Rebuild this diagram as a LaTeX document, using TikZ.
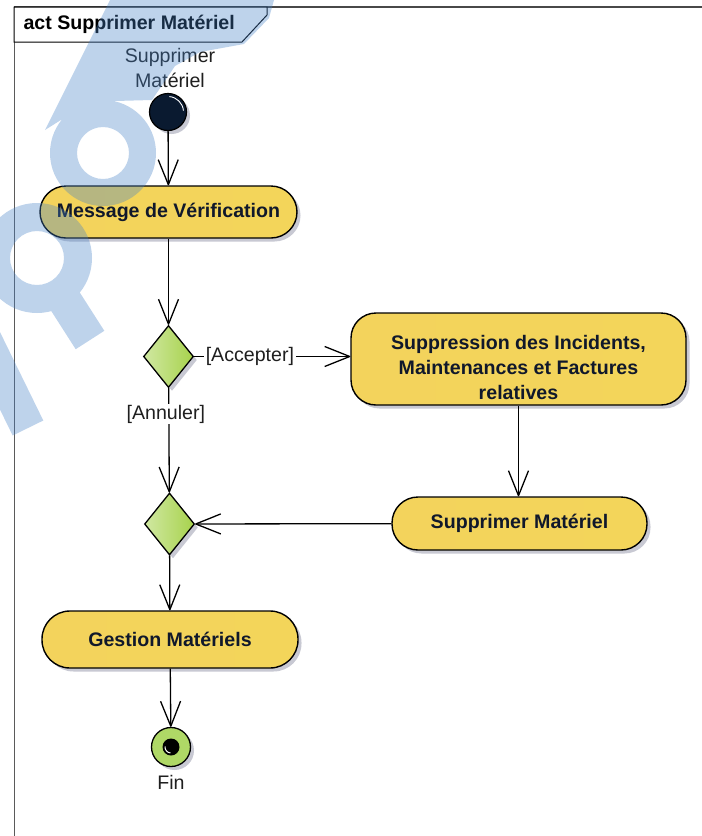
\documentclass[tikz,border=0pt]{standalone}
\usepackage{fontspec}
\setmainfont{Liberation Sans}
\usetikzlibrary{arrows.meta,shapes.geometric,shadows}

\definecolor{actL}{HTML}{F3D35C}
\definecolor{actM}{HTML}{FAEBB0}
\definecolor{actR}{HTML}{F3D55A}
\definecolor{decL}{HTML}{D0E8A2}
\definecolor{decR}{HTML}{A7D24C}
\definecolor{shadowcol}{HTML}{C8C9D3}
\definecolor{navy}{HTML}{0A1A30}
\definecolor{inktext}{HTML}{10182B}
\definecolor{wmark}{RGB}{70,130,200}
\definecolor{frameline}{HTML}{5A5A5A}
\definecolor{endgreen}{HTML}{AFD866}

\tikzset{
  txt/.style={font=\fontsize{19.6}{25}\selectfont, text=black!88},
  boldtxt/.style={font=\fontsize{19.6}{25}\selectfont\bfseries, text=inktext},
  shadowed/.style={drop shadow={shadow xshift=3.5pt, shadow yshift=-3.5pt, fill=shadowcol, opacity=1}},
  action/.style={boldtxt, draw=black, line width=1.4pt, rounded corners=26pt,
    minimum width=257pt, minimum height=52pt, inner sep=0pt,
    left color=actL, middle color=actM, right color=actR, shadowed},
  decision/.style={shape=diamond, draw=black, line width=1.3pt, inner sep=0pt,
    minimum width=50pt, minimum height=62pt, left color=decL, right color=decR, shadowed},
  flow/.style={line width=1.3pt, line join=round,
    -{Straight Barb[length=25pt, width=20pt, line join=round]}},
  guard/.style={txt, fill=white, inner xsep=1.5pt, inner ysep=1pt},
}

\begin{document}
\begin{tikzpicture}[x=1pt, y=-1pt]
\useasboundingbox (0,0) rectangle (702,836);
\fill[white] (0,0) rectangle (702,836);

% diagram frame, open to the right and bottom
\draw[frameline, line width=1pt] (14,836) -- (14,7);
\draw[frameline!80!black, line width=1.6pt] (14,7) -- (702,7);

% frame name tag
\draw[black, line width=1pt, fill=white] (14,7) -- (267,7) -- (267,15) -- (242,42) -- (14,42) -- cycle;
\node[boldtxt, anchor=west, text=black] (hdr) at (20,24.5) {act Supprimer Matériel};

% initial node and its name
\node[txt, align=center] (startlbl) at (170,67.5) {Supprimer\\Matériel};
\node[circle, minimum size=37pt, inner sep=0pt, fill=navy, draw=black, line width=1.2pt, shadowed] (init) at (168,112) {};
\draw[white, line width=0.9pt] (init.center) ++(-85:15.5) arc[start angle=-85, end angle=-5, radius=15.5];

% actions
\node[action] (msg) at (168.5,212) {Message de Vérification};
\node[action, rounded corners=25pt, minimum width=335pt, minimum height=92pt] (supp) at (518.5,359) {};
\node[boldtxt, align=center] (supptxt) at (518.5,367) {Suppression des Incidents,\\Maintenances et Factures\\relatives};
\node[action, minimum width=255pt, minimum height=53pt] (del) at (519.5,523.5) {Supprimer Matériel};
\node[action, rounded corners=28pt, minimum width=256pt, minimum height=57pt] (gest) at (170,639.5) {Gestion Matériels};

% decision and merge
\node[decision] (dec1) at (168.5,356.5) {};
\node[decision] (dec2) at (169.5,524) {};

% final node
\node[circle, minimum size=39pt, inner sep=0pt, fill=endgreen, draw=black, line width=1.3pt, shadowed] (fin) at (171,747) {};
\fill[black] (fin.center) circle[radius=8.5];
\draw[white, line width=1pt] (fin.center) ++(95:6) arc[start angle=95, end angle=185, radius=6];
\node[txt] (finlbl) at (171,782) {Fin};

% control flows
\draw[flow] (init) -- (msg);
\draw[flow] (msg) -- (dec1);
\draw[flow] (dec1.east) -- node[guard, pos=0.357] {[Accepter]} (dec1.east -| supp.west);
\draw[flow] (dec1) -- node[guard, pos=0.25, xshift=-3pt] {[Annuler]} (dec2);
\draw[flow] (supp.south) -- (supp.south |- del.north);
\draw[flow] (del) -- (dec2);
\draw[flow] (dec2) -- (gest);
\draw[flow] (gest) -- (fin);

% translucent mark laid over the left side
\fill[wmark, opacity=0.35, nonzero rule]
  (110,0) -- (274,0) -- (269,18) -- (244,44) -- (200,52) -- (175,66) -- (152,100)
    -- (115,101) -- (80,108) -- (45,130) -- cycle
  (103,153) circle[radius=53]
  (129,153) arc[start angle=360, end angle=0, radius=26]
  (37,258) circle[radius=55]
  (64,258) arc[start angle=360, end angle=0, radius=27]
  (72.3,280.8) -- (104.3,330.8) -- (75.7,349.2) -- (43.7,299.2) -- cycle
  (-4.7,322.5) -- (43.3,420.5) -- (12.7,435.5) -- (-35.3,337.5) -- cycle;
\end{tikzpicture}
\end{document}
